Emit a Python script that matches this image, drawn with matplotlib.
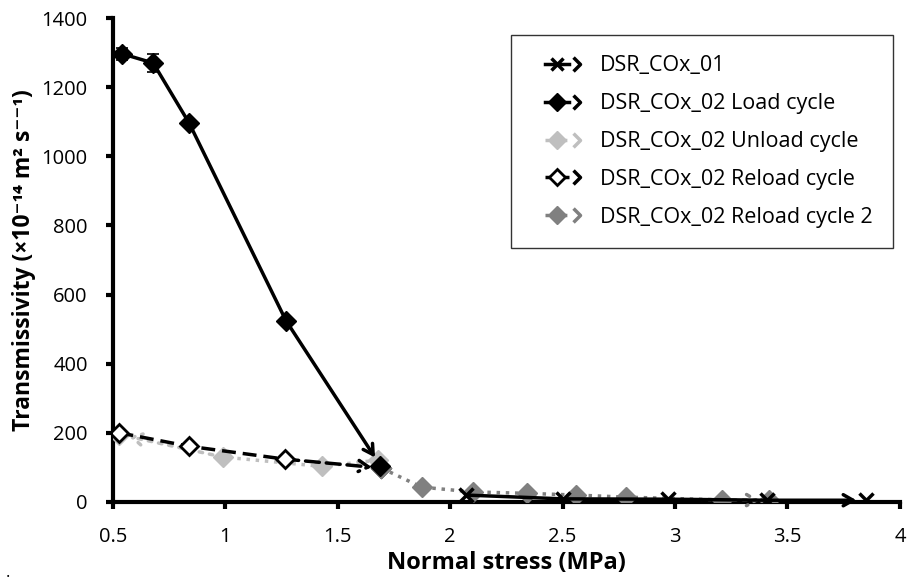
import matplotlib
matplotlib.use("Agg")
import matplotlib.pyplot as plt
from matplotlib.lines import Line2D
from matplotlib.path import Path
from matplotlib.legend_handler import HandlerTuple

plt.rcParams['font.family'] = ['Open Sans', 'DejaVu Sans']

# Data
cox01_x = [2.07, 2.50, 2.97, 3.41, 3.85]
cox01_y = [20, 9, 8, 5, 5]

load_x = [0.54, 0.68, 0.84, 1.27, 1.69]
load_y = [1297, 1270, 1096, 525, 105]
load_err = [17, 27, 0, 0, 0]

unload_x = [1.68, 1.43, 0.99, 0.53]
unload_y = [121, 103, 130, 195]

reload_x = [0.53, 0.84, 1.265, 1.695]
reload_y = [200, 161, 124, 98]

reload2_x = [1.695, 1.873, 2.10, 2.34, 2.56, 2.78, 3.21, 3.42]
reload2_y = [98, 43, 29, 25, 20, 14, 6, 5]

xticks = [0.5, 1, 1.5, 2, 2.5, 3, 3.5, 4]
xticklabels = ['0.5', '1', '1.5', '2', '2.5', '3', '3.5', '4']
yticks = [0, 200, 400, 600, 800, 1000, 1200, 1400]

LIGHT = '#bfbfbf'
DARK = '#808080'

fig = plt.figure(figsize=(9.09, 5.83), dpi=100)
ax = fig.add_axes([0.124, 0.139, 0.866, 0.830])

chev = Path([(-1, 1), (0, 0), (-1, -1)], [Path.MOVETO, Path.LINETO, Path.LINETO])

def series(xs, ys, color, ls, marker, mfc, ms, mew, zorder, lw=2.5):
    ax.plot(xs[:-1], ys[:-1], color=color, ls=ls, lw=lw, zorder=zorder)
    ax.annotate('', xy=(xs[-1], ys[-1]), xytext=(xs[-2], ys[-2]),
                arrowprops=dict(arrowstyle='->,head_length=0.7,head_width=0.4',
                                color=color, lw=lw, ls=ls if ls != ':' else (0, (1, 2)),
                                shrinkA=0, shrinkB=7),
                zorder=zorder)
    ax.plot(xs, ys, ls='none', marker=marker, mfc=mfc, mec=color, ms=ms,
            mew=mew, color=color, zorder=zorder + 0.5)

series(unload_x, unload_y, LIGHT, ':', 'D', LIGHT, 10, 1, 3)
series(reload_x, reload_y, 'black', (0, (4, 2)), 'D', 'white', 9, 2, 4)
series(reload2_x, reload2_y, DARK, ':', 'D', DARK, 10, 1, 5)
series(cox01_x, cox01_y, 'black', '-', 'x', 'black', 10, 2.5, 6)
series(load_x, load_y, 'black', '-', 'D', 'black', 10, 1, 7)
ax.errorbar(load_x[:2], load_y[:2], yerr=load_err[:2], fmt='none',
            ecolor='black', elinewidth=1.2, capsize=4, capthick=1.2, zorder=8)

ax.set_xlim(0.5, 4)
ax.set_ylim(0, 1400)
ax.set_xticks(xticks)
ax.set_xticklabels(xticklabels)
ax.set_yticks(yticks)
for s in ['top', 'right']:
    ax.spines[s].set_visible(False)
for s in ['left', 'bottom']:
    ax.spines[s].set_linewidth(3)
ax.tick_params(axis='both', direction='out', width=3, length=5, labelsize=14.5)
ax.tick_params(axis='x', pad=13)
ax.tick_params(axis='y', pad=13)
ax.set_xlabel('Normal stress (MPa)', fontsize=17, fontweight='bold', labelpad=3)
ax.set_ylabel('Transmissivity (×10⁻¹⁴ m² s⁻⁻¹)', fontsize=16.5,
              fontweight='bold', labelpad=4)

def handle(color, ls, marker, mfc, ms, mew):
    l1 = Line2D([], [], color=color, ls=ls, lw=2.5, marker=marker, mfc=mfc,
                mec=color, ms=ms, mew=mew)
    l2 = Line2D([], [], color=color, ls='none', marker=chev, mfc='none',
                mec=color, ms=10, mew=2.5)
    return (l1, l2)

handles = [
    handle('black', '-', 'x', 'black', 9, 2.5),
    handle('black', '-', 'D', 'black', 9, 1),
    handle(LIGHT, ':', 'D', LIGHT, 9, 1),
    handle('black', (0, (3, 2)), 'D', 'white', 8, 2),
    handle(DARK, ':', 'D', DARK, 9, 1),
]
labels = ['DSR_COx_01', 'DSR_COx_02 Load cycle', 'DSR_COx_02 Unload cycle',
          'DSR_COx_02 Reload cycle', 'DSR_COx_02 Reload cycle 2']
leg = ax.legend(handles, labels,
                handler_map={tuple: HandlerTuple(ndivide=2, pad=0, xpad=0.6)},
                loc='upper right', bbox_to_anchor=(0.991, 0.965), fontsize=15.5,
                frameon=True, fancybox=False, edgecolor='black', handlelength=2.8,
                labelspacing=0.78, borderpad=0.95, handletextpad=0.35,
                borderaxespad=0)
leg.get_frame().set_linewidth(1)

fig.text(0.006, 0.01, '.', fontsize=12)

fig.savefig('out.png', dpi=100)
